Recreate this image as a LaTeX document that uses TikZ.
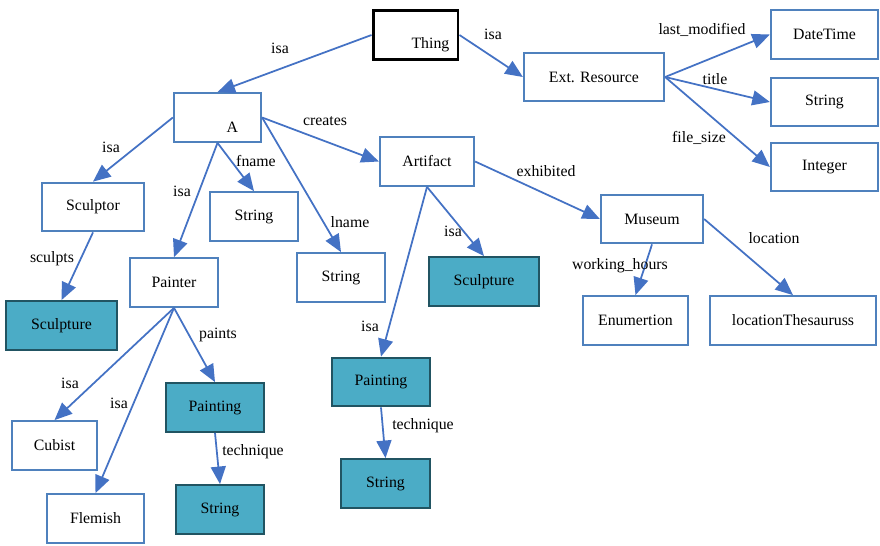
\documentclass[tikz,border=0pt]{standalone}
\usepackage{fontspec}
\setmainfont{Liberation Serif}
\usetikzlibrary{arrows.meta}
\definecolor{edg}{RGB}{68, 114, 196}
\definecolor{brd}{RGB}{79, 129, 189}
\definecolor{tea}{RGB}{75, 172, 198}
\definecolor{tbd}{RGB}{33, 84, 98}

\tikzset{
  cls/.style={draw=brd, line width=1.3pt, fill=white, minimum height=0.97cm,
    inner sep=1pt, font=\fontsize{9}{11}\selectfont},
  inst/.style={cls, draw=tbd, fill=tea},
  rel/.style={draw=edg, line width=1pt, -{Triangle[length=10pt,width=8.5pt]}},
  lbl/.style={inner sep=0pt, font=\fontsize{9}{11}\selectfont},
}

\begin{document}
\begin{tikzpicture}[x=0.02cm, y=-0.02cm]
      \useasboundingbox (0, 0) rectangle (880, 545);
      % classes
      \node[cls, draw=black, line width=1.7pt, minimum width=1.7cm, text height=15pt, text depth=0pt] (thing) at (415.5, 35) {\hspace*{17pt}Thing};
      \node[cls, minimum width=1.74cm, text height=17pt, text depth=0pt] (a) at (217.5, 117.5) {\hspace*{17pt}A};
      \node[cls, minimum width=2.8cm] (ext) at (594, 77) {Ext. Resource};
      \node[cls, minimum width=2.14cm] (datetime) at (824.5, 34.5) {DateTime};
      \node[cls, minimum width=2.14cm] (strtitle) at (824.5, 102) {String};
      \node[cls, minimum width=2.14cm] (integer) at (824.5, 167) {Integer};
      \node[cls, minimum width=1.88cm] (artifact) at (427, 161.5) {Artifact};
      \node[cls, minimum width=2.04cm] (museum) at (652, 219) {Museum};
      \node[cls, minimum width=2.04cm] (sculptor) at (93, 207) {Sculptor};
      \node[cls, minimum width=1.76cm] (strfname) at (254, 216.5) {String};
      \node[cls, minimum width=1.76cm] (strlname) at (341, 277.5) {String};
      \node[cls, minimum width=1.76cm] (painter) at (174, 282.5) {Painter};
      \node[cls, minimum width=2.1cm] (enum) at (635.5, 320.5) {Enumertion};
      \node[cls, minimum width=3.32cm] (locth) at (793, 320.5) {locationThesauruss};
      \node[cls, minimum width=1.7cm] (cubist) at (54.5, 445.5) {Cubist};
      \node[cls, minimum width=1.94cm] (flemish) at (95.5, 518.5) {Flemish};
      % instances
      \node[inst, minimum width=2.2cm] (sculptr) at (484, 281.5) {Sculpture};
      \node[inst, minimum width=2.22cm] (sculptl) at (61.5, 325.5) {Sculpture};
      \node[inst, minimum width=1.96cm] (paintm) at (381, 382) {Painting};
      \node[inst, minimum width=1.96cm] (paintl) at (215, 407.5) {Painting};
      \node[inst, minimum width=1.78cm] (strm) at (385.5, 483.5) {String};
      \node[inst, minimum width=1.76cm] (strl) at (220, 509.5) {String};

      % relations
      \draw[rel] (thing.west) -- (a.north);
      \draw[rel] (thing.east) -- (ext.west);
      \draw[rel] (ext.east) -- (datetime.west);
      \draw[rel] (ext.east) -- (strtitle.west);
      \draw[rel] (ext.east) -- (integer.west);
      \draw[rel] (a.west) -- (sculptor.north);
      \draw[rel] (a.south) -- (painter.north);
      \draw[rel] (a.south) -- (strfname.north);
      \draw[rel] (a.east) -- (strlname.north);
      \draw[rel] (a.east) -- (artifact.west);
      \draw[rel] (artifact.south) -- (sculptr.north);
      \draw[rel] (artifact.south) -- (paintm.north);
      \draw[rel] (artifact.east) -- (museum.west);
      \draw[rel] (museum.south) -- (enum.north);
      \draw[rel] (museum.east) -- (locth.north);
      \draw[rel] (sculptor.south) -- (sculptl.north);
      \draw[rel] (painter.south) -- (paintl.north);
      \draw[rel] (painter.south) -- (cubist.north);
      \draw[rel] (painter.south) -- (flemish.north);
      \draw[rel] (paintl.south) -- (strl.north);
      \draw[rel] (paintm.south) -- (strm.north);

      % relation names
      \node[lbl] (l1) at (280, 48) {isa};
      \node[lbl] (l2) at (493, 34) {isa};
      \node[lbl] (l3) at (702, 30) {last\_modified};
      \node[lbl] (l4) at (715, 79) {title};
      \node[lbl] (l5) at (699, 138) {file\_size};
      \node[lbl] (l6) at (111, 147) {isa};
      \node[lbl] (l7) at (182, 191) {isa};
      \node[lbl] (l8) at (256, 161) {fname};
      \node[lbl] (l9) at (350, 222) {lname};
      \node[lbl] (l10) at (325, 121) {creates};
      \node[lbl] (l11) at (453, 231) {isa};
      \node[lbl] (l12) at (370, 326) {isa};
      \node[lbl] (l13) at (546, 171) {exhibited};
      \node[lbl] (l14) at (620, 266) {working\_hours};
      \node[lbl] (l15) at (774, 238) {location};
      \node[lbl] (l16) at (52, 259) {sculpts};
      \node[lbl] (l17) at (218, 335) {paints};
      \node[lbl] (l18) at (70, 383) {isa};
      \node[lbl] (l19) at (119, 403) {isa};
      \node[lbl] (l20) at (253, 452) {technique};
      \node[lbl] (l21) at (423, 426) {technique};
    \end{tikzpicture}
\end{document}
